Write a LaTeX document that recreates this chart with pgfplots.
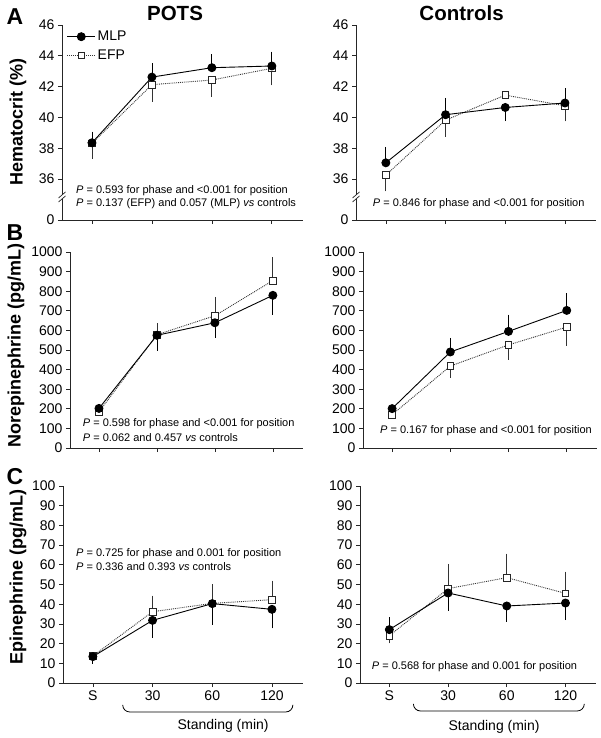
\documentclass[border=0pt]{standalone}
\usepackage{fontspec}
\setmainfont{Liberation Sans}
\usepackage{pgfplots}
\pgfplotsset{compat=1.18}
\pgfplotsset{
  panel/.style={
    scale only axis, axis lines=left,
    axis line style={-, black!85, line width=0.7pt},
    xmin=-0.5, xmax=3.52, xtick={0,1,2,3},
    tick align=outside, major tick length=4pt,
    tick style={black!85, line width=0.7pt},
    tick label style={font=\fontsize{14}{16}\selectfont},
    /pgf/number format/assume math mode=true,
    /pgf/number format/1000 sep={},
    scaled y ticks=false, clip=false,
    ylabel style={font=\bfseries\fontsize{18}{21}\selectfont, anchor=center},
    title style={font=\bfseries\fontsize{20.5}{24}\selectfont, anchor=center, yshift=0pt},
    xlabel style={font=\fontsize{14}{16}\selectfont, anchor=center},
  },
  nox/.style={xticklabels={\mbox{},\mbox{},\mbox{},\mbox{}}},
  mlp/.style={black, solid, line width=0.9pt, mark=*, mark size=4pt, mark options={solid, fill=black}},
  efp/.style={black!80, densely dotted, line width=0.9pt, mark=square*, mark size=3.3pt, mark options={solid, fill=white, draw=black!85, line width=0.7pt}},
  errup/.style={forget plot, only marks, mark=none, #1,
    error bars/y dir=plus, error bars/y explicit,
    error bars/error bar style={solid, line width=0.8pt, #1},
    error bars/error mark options={solid, line width=0.8pt, mark size=2.6pt, #1}},
  errdn/.style={forget plot, only marks, mark=none, #1,
    error bars/y dir=minus, error bars/y explicit,
    error bars/error bar style={solid, line width=0.8pt, #1},
    error bars/error mark options={solid, line width=0.8pt, mark size=2.6pt, #1}},
}
\newcommand{\annot}{\fontsize{11}{13}\selectfont}
\begin{document}
\begin{tikzpicture}
\useasboundingbox (0,0) rectangle (601pt,-738pt);

% ---------------- A left
\begin{axis}[panel, nox, at={(62pt,-220pt)}, anchor=south west, width=241pt, height=195pt,
  ymin=33.35, ymax=46, ytick={33.35,36,38,40,42,44,46}, yticklabels={0,36,38,40,42,44,46},
  ylabel={Hematocrit (\%)}, ylabel style={at={(axis description cs:-0.183,0.503)}},
  title={POTS}, title style={at={(axis description cs:0.469,1.029)}},
  legend style={at={(axis description cs:0.015,0.985)}, anchor=north west, draw=none, fill=none,
    font=\fontsize{14}{16}\selectfont, row sep=3.5pt, inner sep=1pt, cells={anchor=west}},
  legend image code/.code={\draw[mark repeat=2,mark phase=2] plot coordinates {(0pt,0pt)(14pt,0pt)(28pt,0pt)};},
  reverse legend]
\addplot[errup=black] coordinates {(0,38.36) +- (0,0.56) (1,42.62) +- (0,0.74) (2,43.23) +- (0,0.69) (3,43.34) +- (0,0.76)};
\addplot[errdn=black!80] coordinates {(0,38.32) +- (0,0.83) (1,42.13) +- (0,0.94) (2,42.43) +- (0,0.91) (3,43.19) +- (0,0.93)};
\addplot[efp] coordinates {(0,38.32) (1,42.13) (2,42.43) (3,43.19)};
\addlegendentry{EFP}
\addplot[mlp] coordinates {(0,38.36) (1,42.62) (2,43.23) (3,43.34)};
\addlegendentry{MLP}
\fill[white] ([xshift=-5pt,yshift=-2pt]rel axis cs:0,0.118) rectangle ([xshift=5pt,yshift=2pt]rel axis cs:0,0.118);
\draw[black!85, line width=0.7pt] ([xshift=-3.5pt,yshift=-5pt]rel axis cs:0,0.118) -- ([xshift=3.5pt,yshift=1pt]rel axis cs:0,0.118);
\draw[black!85, line width=0.7pt] ([xshift=-3.5pt,yshift=-1pt]rel axis cs:0,0.118) -- ([xshift=3.5pt,yshift=5pt]rel axis cs:0,0.118);
\end{axis}

% ---------------- A right
\begin{axis}[panel, nox, at={(356pt,-220pt)}, anchor=south west, width=240pt, height=195pt,
  ymin=33.35, ymax=46, ytick={33.35,36,38,40,42,44,46}, yticklabels={0,36,38,40,42,44,46},
  title={Controls}, title style={at={(axis description cs:0.44,1.029)}}]
\addplot[errup=black] coordinates {(0,37.06) +- (0,0.87) (1,40.18) +- (0,0.93) (3,40.94) +- (0,0.80)};
\addplot[errdn=black!80] coordinates {(0,36.26) +- (0,0.89) (1,39.83) +- (0,0.91) (3,40.76) +- (0,0.84)};
\addplot[errdn=black] coordinates {(2,40.65) +- (0,0.71)};
\addplot[efp] coordinates {(0,36.26) (1,39.83) (2,41.45) (3,40.76)};
\addplot[mlp] coordinates {(0,37.06) (1,40.18) (2,40.65) (3,40.94)};
\fill[white] ([xshift=-5pt,yshift=-2pt]rel axis cs:0,0.118) rectangle ([xshift=5pt,yshift=2pt]rel axis cs:0,0.118);
\draw[black!85, line width=0.7pt] ([xshift=-3.5pt,yshift=-5pt]rel axis cs:0,0.118) -- ([xshift=3.5pt,yshift=1pt]rel axis cs:0,0.118);
\draw[black!85, line width=0.7pt] ([xshift=-3.5pt,yshift=-1pt]rel axis cs:0,0.118) -- ([xshift=3.5pt,yshift=5pt]rel axis cs:0,0.118);
\end{axis}

% ---------------- B left
\begin{axis}[panel, nox, at={(70pt,-448pt)}, anchor=south west, width=233pt, height=196pt,
  ymin=0, ymax=1000, ytick={0,100,...,1000},
  ylabel={Norepinephrine (pg/mL)}, ylabel style={at={(axis description cs:-0.232,0.525)}}]
\addplot[errup=black!80] coordinates {(1,578) +- (0,46) (2,675) +- (0,83) (3,854) +- (0,105)};
\addplot[errdn=black] coordinates {(1,575) +- (0,65) (2,639) +- (0,62) (3,779) +- (0,87)};
\addplot[efp] coordinates {(0,185) (1,578) (2,675) (3,854)};
\addplot[mlp] coordinates {(0,202) (1,575) (2,639) (3,779)};
\end{axis}

% ---------------- B right
\begin{axis}[panel, nox, at={(363pt,-448pt)}, anchor=south west, width=234pt, height=196pt,
  ymin=0, ymax=1000, ytick={0,100,...,1000}]
\addplot[errup=black] coordinates {(1,490) +- (0,58) (2,595) +- (0,72) (3,702) +- (0,74)};
\addplot[errdn=black!80] coordinates {(1,418) +- (0,46) (2,526) +- (0,62) (3,617) +- (0,81)};
\addplot[efp] coordinates {(0,170) (1,418) (2,526) (3,617)};
\addplot[mlp] coordinates {(0,201) (1,490) (2,595) (3,702)};
\end{axis}

% ---------------- C left
\begin{axis}[panel, at={(63pt,-683pt)}, anchor=south west, width=240pt, height=197pt,
  ymin=0, ymax=100, ytick={0,10,...,100}, xticklabels={S,30,60,120},
  ylabel={Epinephrine (pg/mL)}, ylabel style={at={(axis description cs:-0.1875,0.536)}},
  xlabel={Standing (min)}, xlabel style={at={(axis description cs:0.667,-0.218)}}]
\addplot[errup=black!80] coordinates {(1,36.2) +- (0,6.8) (2,40.4) +- (0,8.3) (3,42.3) +- (0,8.3)};
\addplot[errdn=black] coordinates {(0,13.4) +- (0,2.2) (1,31.8) +- (0,7.6) (2,40.3) +- (0,9.5) (3,37.4) +- (0,8.3)};
\addplot[efp] coordinates {(0,13.7) (1,36.2) (2,40.4) (3,42.3)};
\addplot[mlp] coordinates {(0,13.4) (1,31.8) (2,40.3) (3,37.4)};
\draw[black, line width=0.8pt, rounded corners=7pt] (axis cs:0.50,-11.2) |- (axis cs:3.35,-14.7) -- (axis cs:3.35,-11.2);
\end{axis}

% ---------------- C right
\begin{axis}[panel, at={(360pt,-683pt)}, anchor=south west, width=236pt, height=197pt,
  ymin=0, ymax=100, ytick={0,10,...,100}, xticklabels={S,30,60,120},
  xlabel={Standing (min)}, xlabel style={at={(axis description cs:0.568,-0.223)}}]
\addplot[errup=black] coordinates {(0,27.1) +- (0,4.9)};
\addplot[errup=black!80] coordinates {(1,47.9) +- (0,11.2) (2,53.5) +- (0,10.8) (3,45.5) +- (0,9.7)};
\addplot[errdn=black!80] coordinates {(0,24.0) +- (0,2.5)};
\addplot[errdn=black] coordinates {(1,45.7) +- (0,7.6) (2,39.1) +- (0,6.6) (3,40.6) +- (0,7.4)};
\addplot[efp] coordinates {(0,24.0) (1,47.9) (2,53.5) (3,45.5)};
\addplot[mlp] coordinates {(0,27.1) (1,45.7) (2,39.1) (3,40.6)};
\draw[black, line width=0.8pt, rounded corners=7pt] (axis cs:0.41,-10.7) |- (axis cs:3.32,-14.2) -- (axis cs:3.32,-10.7);
\end{axis}

% panel letters
\node[font=\bfseries\fontsize{23}{26}\selectfont] at (15pt,-17pt) {A};
\node[font=\bfseries\fontsize{23}{26}\selectfont] at (15pt,-233pt) {B};
\node[font=\bfseries\fontsize{23}{26}\selectfont] at (15pt,-477pt) {C};

% annotations
\node[anchor=west, inner sep=0pt, font=\annot] at (76pt,-190.7pt) {\textit{P} = 0.593 for phase and <0.001 for position};
\node[anchor=west, inner sep=0pt, font=\annot] at (76pt,-203.3pt) {\textit{P} = 0.137 (EFP) and 0.057 (MLP) \textit{vs} controls};
\node[anchor=west, inner sep=0pt, font=\annot] at (372.7pt,-204pt) {\textit{P} = 0.846 for phase and <0.001 for position};
\node[anchor=west, inner sep=0pt, font=\annot] at (82.7pt,-424pt) {\textit{P} = 0.598 for phase and <0.001 for position};
\node[anchor=west, inner sep=0pt, font=\annot] at (82.7pt,-437.3pt) {\textit{P} = 0.062 and 0.457 \textit{vs} controls};
\node[anchor=west, inner sep=0pt, font=\annot] at (380pt,-430.7pt) {\textit{P} = 0.167 for phase and <0.001 for position};
\node[anchor=west, inner sep=0pt, font=\annot] at (76pt,-553.3pt) {\textit{P} = 0.725 for phase and 0.001 for position};
\node[anchor=west, inner sep=0pt, font=\annot] at (76pt,-566.7pt) {\textit{P} = 0.336 and 0.393 \textit{vs} controls};
\node[anchor=west, inner sep=0pt, font=\annot] at (371.7pt,-666.7pt) {\textit{P} = 0.568 for phase and 0.001 for position};
\end{tikzpicture}
\end{document}
